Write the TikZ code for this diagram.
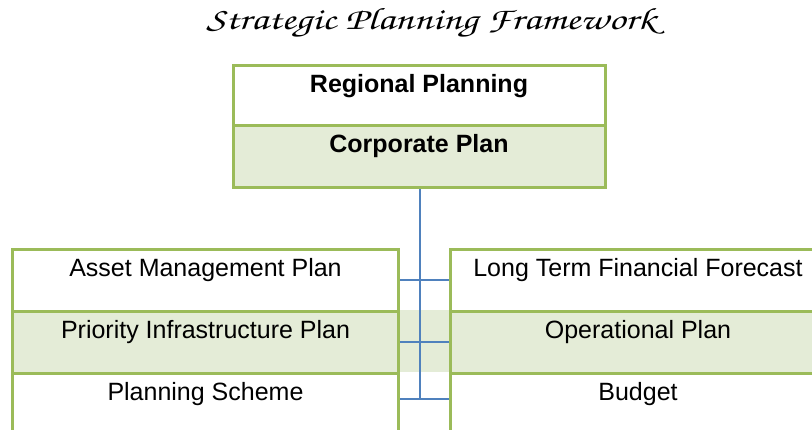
\documentclass[tikz,border=0pt]{standalone}
\usepackage{fontspec}
\usepackage[T1,TU]{fontenc}
\setmainfont{Liberation Sans}
\usetikzlibrary{positioning}

\definecolor{frameGreen}{RGB}{155,187,89}
\definecolor{rowGreen}{RGB}{228,236,215}
\definecolor{linkBlue}{RGB}{79,129,189}

\tikzset{
  plan/.style={draw=frameGreen, line width=3pt, inner sep=0pt, anchor=north,
    font=\fontsize{25}{30}\selectfont, text height=27pt},
  shaded/.style={fill=rowGreen},
  link/.style={draw=linkBlue, line width=1.8pt}
}

\begin{document}
\begin{tikzpicture}[x=1pt, y=-1pt]
			\useasboundingbox (0,0) rectangle (812,429);

			% Band between the two columns
			\fill[rowGreen] (400,309.5) rectangle (449,371.5);

			% Title
			\node[anchor=base, font=\fontencoding{T1}\fontfamily{pzc}\fontseries{mb}\fontshape{it}\fontsize{31}{35}\selectfont] (title) at (431,29) {\scalebox{1.33}[1]{Strategic Planning Framework}};

			% Top block
			\node[plan, minimum width=372pt, text depth=33pt] (regional) at (419,64) {\bfseries Regional Planning};
			\node[plan, shaded, minimum width=372pt, text depth=35pt] (corporate) at (419,124) {\bfseries Corporate Plan};

			% Left column
			\node[plan, minimum width=386pt, text depth=34.5pt] (asset) at (205.5,248) {Asset Management Plan};
			\node[plan, shaded, minimum width=386pt, text depth=35pt] (priority) at (205.5,309.5) {Priority Infrastructure Plan};
			\node[plan, minimum width=386pt, text depth=43pt] (scheme) at (205.5,371.5) {Planning Scheme};

			% Right column
			\node[plan, minimum width=375pt, text depth=34.5pt] (ltff) at (638,248) {Long Term Financial Forecast};
			\node[plan, shaded, minimum width=375pt, text depth=35pt] (operational) at (638,309.5) {Operational Plan};
			\node[plan, minimum width=375pt, text depth=43pt] (budget) at (638,371.5) {Budget};

			% Links
			\coordinate (spineend) at (420,399);
			\draw[link] (spineend |- corporate.south) -- (spineend);
			\draw[link] (asset.east) -- (ltff.west);
			\draw[link] (priority.east) -- (operational.west);
			\draw[link] (scheme.east |- spineend) -- (budget.west |- spineend);
		\end{tikzpicture}
\end{document}
